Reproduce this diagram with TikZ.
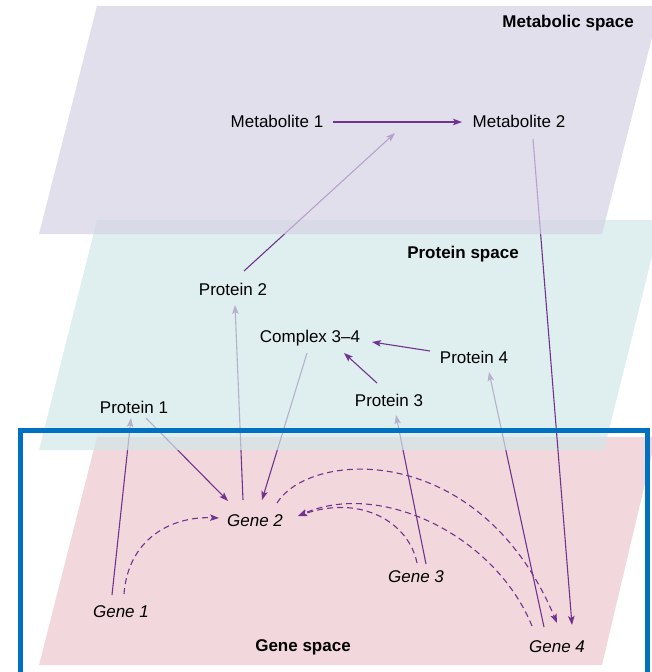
\documentclass[tikz,border=0pt]{standalone}
\usepackage{fontspec}
\setmainfont{Liberation Sans}
\usetikzlibrary{arrows.meta,calc}

\definecolor{metafill}{RGB}{214,209,230}
\definecolor{protfill}{RGB}{209,231,231}
\definecolor{genefill}{RGB}{242,216,220}
\definecolor{linkpurple}{RGB}{112,52,142}
\definecolor{frameblue}{RGB}{0,112,192}

% stacking order: each plane sits over the links that run up into it
\pgfdeclarelayer{geneplane}
\pgfdeclarelayer{genelinks}
\pgfdeclarelayer{protplane}
\pgfdeclarelayer{protlinks}
\pgfdeclarelayer{metaplane}
\pgfsetlayers{geneplane,genelinks,protplane,protlinks,metaplane,main}

\begin{document}
\begin{tikzpicture}[x=1pt,y=-1pt,
  txt/.style={font=\fontsize{17}{20}\selectfont, inner sep=0pt},
  genetxt/.style={font=\fontsize{17}{20}\selectfont\itshape, inner sep=0pt},
  spacetxt/.style={font=\fontsize{17}{20}\selectfont\bfseries, inner sep=0pt},
  plane/.style={fill opacity=0.7},
  link/.style={draw=linkpurple, line width=1.1pt,
    -{Stealth[length=9pt,width=6.5pt,inset=2pt]}},
  regulates/.style={link, dash pattern=on 6pt off 4pt},
]
\useasboundingbox (0,0) rectangle (651,672);

% ---- labels ----
\node[spacetxt, anchor=east] (ms) at (634,23) {Metabolic space};
\node[spacetxt] (ps) at (463,254) {Protein space};
\node[spacetxt] (gs) at (303,647) {Gene space};

\node[txt] (m1) at (277,121) {Metabolite 1};
\node[txt] (m2) at (519,121) {Metabolite 2};
\coordinate (rxn) at ($(m1)!0.5!(m2)$);

\node[txt] (p2) at (233,289) {Protein 2};
\node[txt] (cx) at (310,338) {Complex 3–4};
\node[txt] (p4) at (474,357) {Protein 4};
\node[txt] (p3) at (389,400) {Protein 3};
\node[txt] (p1) at (134,407) {Protein 1};

\node[genetxt] (g2) at (255,521) {Gene 2};
\node[genetxt] (g3) at (416,577) {Gene 3};
\node[genetxt] (g1) at (121,612) {Gene 1};
\node[genetxt] (g4) at (557,647) {Gene 4};

% ---- planes ----
\begin{pgfonlayer}{geneplane}
  \fill[genefill] (97,437) -- (656,437) -- (602,665) -- (39,665) -- cycle;
\end{pgfonlayer}
\begin{pgfonlayer}{protplane}
  \fill[protfill, plane] (97,220) -- (661,220) -- (604,450) -- (39,450) -- cycle;
\end{pgfonlayer}
\begin{pgfonlayer}{metaplane}
  \fill[metafill, plane] (97,6) -- (660,6) -- (602,234) -- (39,234) -- cycle;
\end{pgfonlayer}

% ---- links between gene and protein space ----
\begin{pgfonlayer}{genelinks}
  \draw[link] ($(g1)+(-9,-17)$) -- ($(p1)+(-3,11)$);
  \draw[link] ($(p1)+(12,11)$) -- ($(g2)+(-27,-20)$);
  \draw[link] ($(g2)+(-12,-21)$) -- ($(p2)+(2,16)$);
  \draw[link] ($(cx)+(-3,15)$) -- ($(g2)+(7,-21)$);
  \draw[link] ($(g3)+(10,-13)$) -- ($(p3)+(7,15)$);
  \draw[link] ($(g4)+(-13,-20)$) -- ($(p4)+(15,15)$);
  % regulation inside gene space
  \draw[regulates] ($(g1)+(3,-18)$) .. controls +(4,-54) and +(-49,-2) .. ($(g2)+(-36,-3)$);
  \draw[regulates] ($(g2)+(22,-18)$) .. controls +(33,-53) and +(-77,-183) .. ($(g4)+(0,-24)$);
  \draw[regulates] ($(g4)+(-25,-21)$) .. controls +(-37,-91) and +(82,-36) .. ($(g2)+(43,-5)$);
  \draw[regulates] ($(g3)+(1,-14)$) .. controls +(-8,-40) and +(64,-22) .. ($(g2)+(43,-5)$);
\end{pgfonlayer}

% ---- links reaching metabolic space, and protein assembly ----
\begin{pgfonlayer}{protlinks}
  \draw[link] ($(p2)+(11,-18)$) -- ($(rxn)+(-3,12)$);
  \draw[link] ($(m2)+(14,18)$) -- ($(g4)+(15,-22)$);
  \draw[link] ($(p3)+(-12,-17)$) -- ($(cx)+(34,15)$);
  \draw[link] ($(p4)+(-44,-6)$) -- ($(cx)+(62,4)$);
\end{pgfonlayer}

% ---- reaction in metabolic space ----
\draw[link] ($(m1)+(56,1)$) -- ($(m2)+(-57,1)$);

% ---- highlight frame ----
\draw[frameblue, line width=5pt] (20,430) rectangle (647,690);
\end{tikzpicture}
\end{document}
